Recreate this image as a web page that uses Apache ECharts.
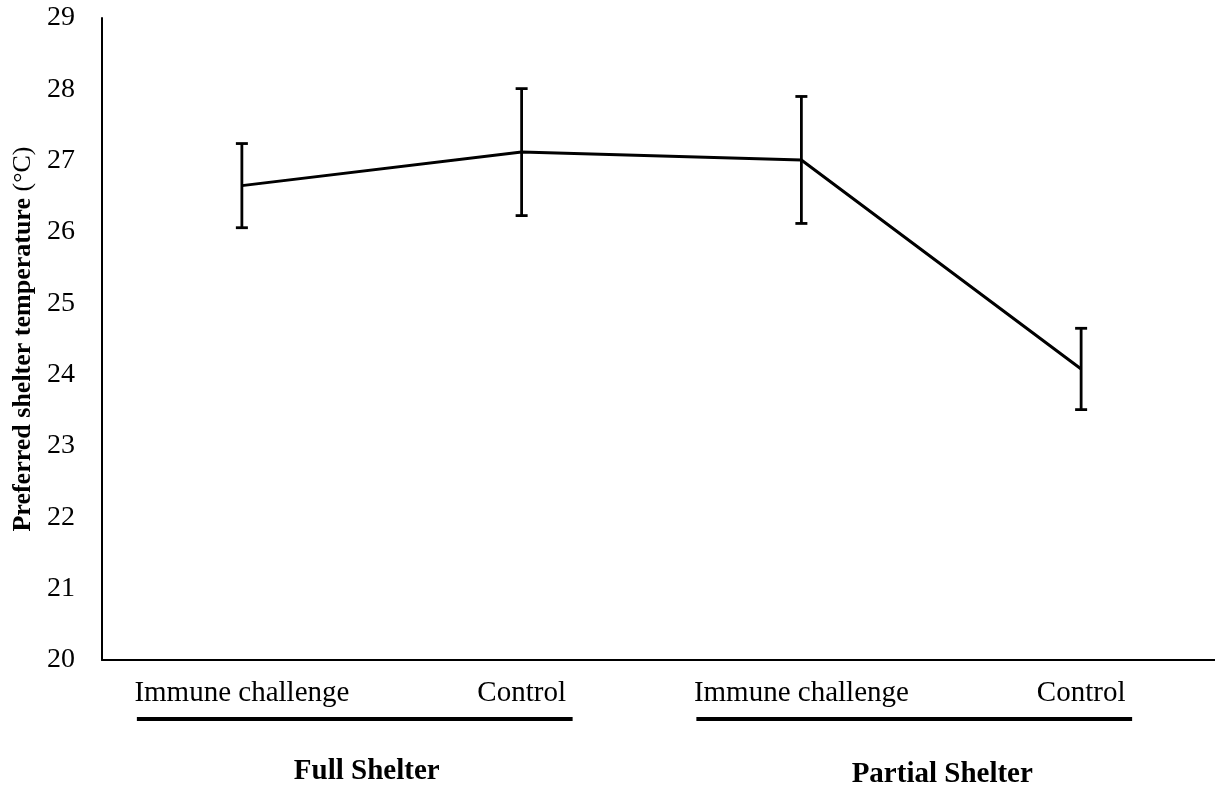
<!DOCTYPE html>
<html>
<head>
<meta charset="utf-8">
<script src="https://cdn.jsdelivr.net/npm/echarts@6/dist/echarts.min.js"></script>
<style>
html,body{margin:0;padding:0;background:#fff;}
#main{width:1215px;height:787px;}
</style>
</head>
<body>
<div id="main"></div>
<script>
const categories = ['Immune challenge', 'Control', 'Immune challenge', 'Control'];
const groups = ['Full Shelter', 'Partial Shelter'];
const means = [26.65, 27.12, 27.01, 24.08];
const errors = [0.59, 0.89, 0.89, 0.57];
const yTicks = [20, 21, 22, 23, 24, 25, 26, 27, 28, 29];

const FONT = "'Liberation Serif', 'Times New Roman', serif";
const chart = echarts.init(document.getElementById('main'), null, {renderer: 'canvas'});

const errData = means.map((m, i) => [i, m - errors[i], m + errors[i]]);

const option = {
  backgroundColor: '#fff',
  animation: false,
  grid: {left: 102, right: -6, top: 18, bottom: 127, containLabel: false, outerBoundsMode: 'none'},
  xAxis: {
    type: 'category',
    data: categories,
    boundaryGap: true,
    axisLine: {lineStyle: {color: '#000', width: 2}},
    axisTick: {show: false},
    axisLabel: {color: '#000', fontFamily: FONT, fontSize: 29, margin: 19, interval: 0}
  },
  yAxis: {
    type: 'value',
    min: yTicks[0],
    max: yTicks[yTicks.length - 1],
    interval: 1,
    name: '{b|Preferred shelter temperature }{r|(°C)}',
    nameLocation: 'middle',
    nameGap: 64,
    nameTextStyle: {
      rich: {
        b: {fontFamily: FONT, fontSize: 26, fontWeight: 'bold', color: '#000'},
        r: {fontFamily: FONT, fontSize: 26, color: '#000'}
      }
    },
    axisLine: {show: true, lineStyle: {color: '#000', width: 2}},
    axisTick: {show: false},
    splitLine: {show: false},
    axisLabel: {color: '#000', fontFamily: FONT, fontSize: 28, margin: 27}
  },
  series: [
    {
      type: 'line',
      data: means,
      symbol: 'none',
      lineStyle: {color: '#000', width: 3}
    },
    {
      type: 'custom',
      data: errData,
      renderItem: function (params, api) {
        const x = api.value(0);
        const lo = api.coord([x, api.value(1)]);
        const hi = api.coord([x, api.value(2)]);
        const hw = 6;
        const style = {stroke: '#000', lineWidth: 2.8};
        return {
          type: 'group',
          children: [
            {type: 'line', shape: {x1: lo[0], y1: lo[1], x2: hi[0], y2: hi[1]}, style: style},
            {type: 'line', shape: {x1: hi[0] - hw, y1: hi[1], x2: hi[0] + hw, y2: hi[1]}, style: style},
            {type: 'line', shape: {x1: lo[0] - hw, y1: lo[1], x2: lo[0] + hw, y2: lo[1]}, style: style}
          ]
        };
      },
      z: 3
    }
  ]
};
chart.setOption(option);

// group underlines and group labels, placed from the axis scale
const labelShift = [12, 28];
const labelY = [772, 775];
const graphics = [];
for (let g = 0; g < groups.length; g++) {
  const pA = chart.convertToPixel({gridIndex: 0}, [2 * g, 20]);
  const pB = chart.convertToPixel({gridIndex: 0}, [2 * g + 1, 20]);
  const x1 = pA[0] - 105, x2 = pB[0] + 51;
  graphics.push({
    type: 'rect',
    shape: {x: x1, y: 717, width: x2 - x1, height: 4},
    style: {fill: '#000'}
  });
  graphics.push({
    type: 'text',
    x: (x1 + x2) / 2 + labelShift[g],
    y: labelY[g],
    style: {
      text: groups[g],
      fontFamily: FONT, fontSize: 29, fontWeight: 'bold', fill: '#000',
      align: 'center', verticalAlign: 'middle'
    }
  });
}
chart.setOption({graphic: graphics});
</script>
</body>
</html>
